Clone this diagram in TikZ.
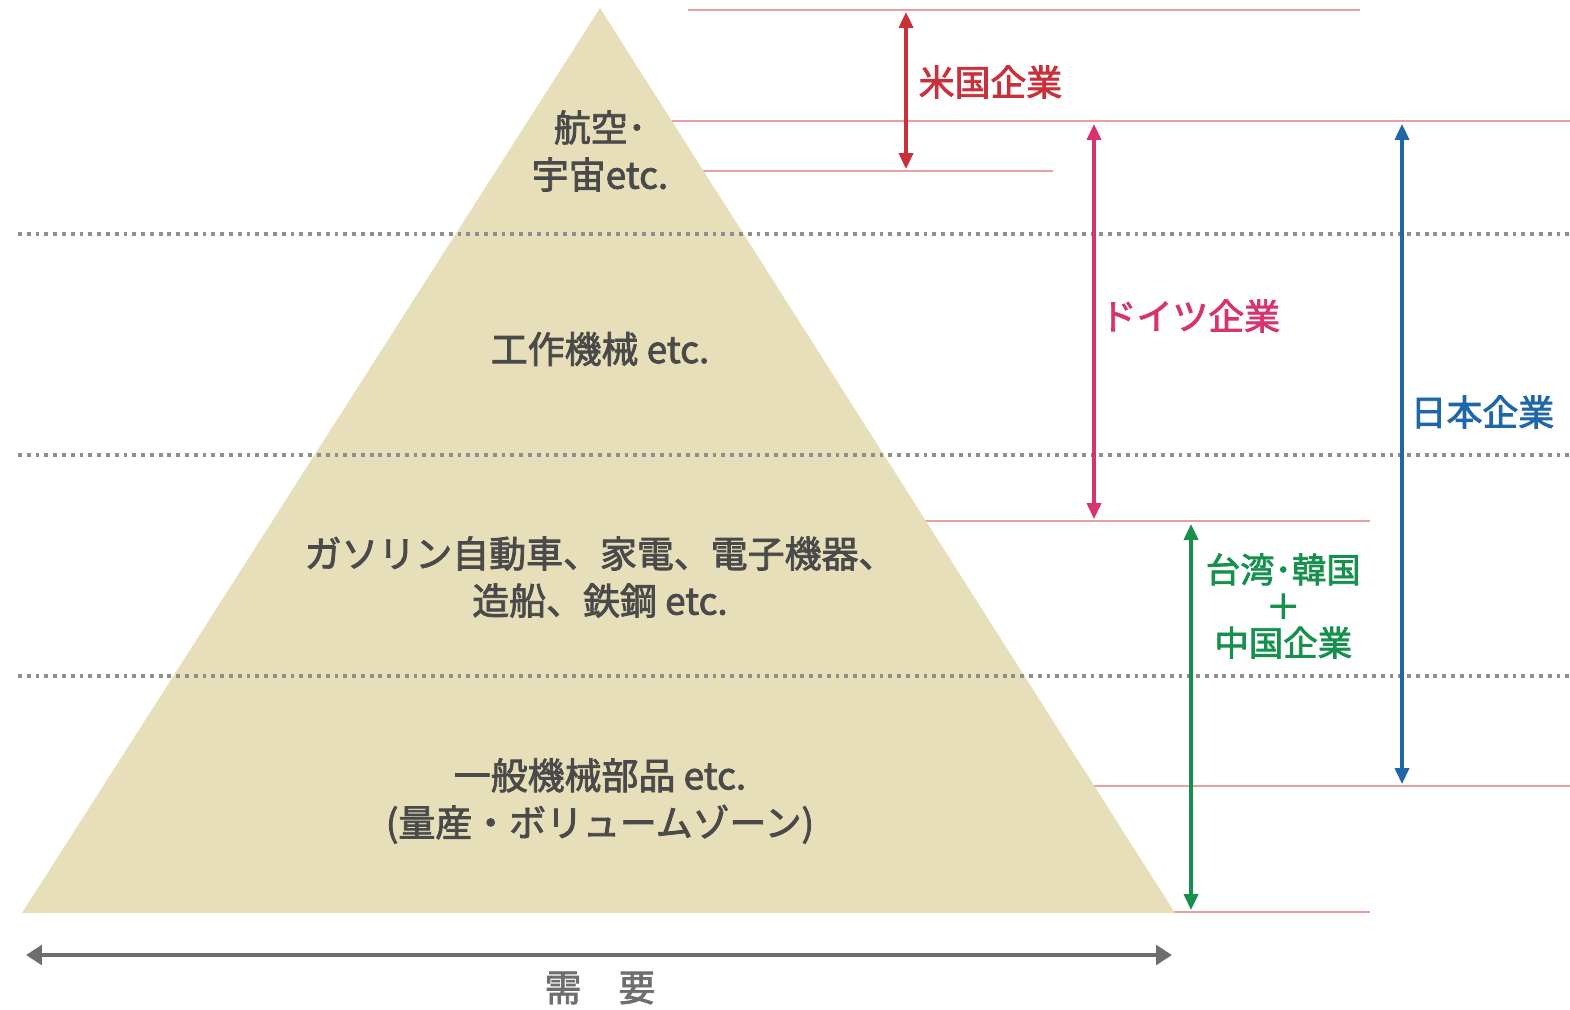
\documentclass[tikz,border=0pt]{standalone}
\usepackage{fontspec}
\usepackage{tikz}
\usetikzlibrary{arrows.meta}
\newfontfamily\jp{Noto Sans CJK JP}[AutoFakeBold=2.2]
\definecolor{pyrfill}{HTML}{E7DFB9}
\definecolor{tiergray}{HTML}{4A4A4A}
\definecolor{bandred}{HTML}{E8A0A0}
\definecolor{dotgray}{HTML}{8E8E8E}
\definecolor{usred}{HTML}{C9303A}
\definecolor{depink}{HTML}{D6336F}
\definecolor{jpblue}{HTML}{1F67A6}
\definecolor{asgreen}{HTML}{17904E}
\definecolor{demgray}{HTML}{6E6E6E}

\begin{document}
\begin{tikzpicture}[x=0.01cm, y=-0.01cm,
  tier/.style={font=\jp\bfseries\fontsize{10.5}{13.4}\selectfont, text=tiergray, align=center, inner sep=0pt},
  firm/.style={font=\jp\bfseries\fontsize{10.2}{10.4}\selectfont, anchor=west, align=center, inner sep=0pt},
  band/.style={draw=bandred, line width=0.5pt},
  level/.style={draw=dotgray, line width=0.9pt, dash pattern=on 1.1pt off 1.4pt},
  span/.style={line width=0.9pt, {Triangle[width=4pt,length=4.5pt]}-{Triangle[width=4pt,length=4.5pt]}}]
\useasboundingbox (0,0) rectangle (1570,1009);
\draw[band] (688,10) -- (1360,10);
\draw[band] (650,121) -- (1570,121);
\draw[band] (680,171) -- (1053,171);
\draw[band] (900,521) -- (1370,521);
\draw[band] (1080,786) -- (1570,786);
\draw[band] (1150,912) -- (1370,912);
\fill[pyrfill] (600,8) -- (1175,913) -- (22,913) -- cycle;
\foreach \y in {234,455,676}
  \draw[level] (18,\y) -- (1570,\y);
\node[tier] (air) at (600,151) {航空･\\宇宙etc.};
\node[tier] (tool) at (600,349) {工作機械 etc.};
\node[tier] (mass) at (600,577) {ガソリン自動車、家電、電子機器、\\造船、鉄鋼 etc.};
\node[tier] (parts) at (600,801) {一般機械部品 etc.\\(量産・ボリュームゾーン)};
\coordinate (us-a) at (906,12);
\coordinate (us-b) at (906,169);
\coordinate (de-a) at (1094,124);
\coordinate (de-b) at (1094,519);
\coordinate (jp-a) at (1402,124);
\coordinate (jp-b) at (1402,784);
\coordinate (as-a) at (1191,524);
\coordinate (as-b) at (1191,910);
\coordinate (dem-a) at (26,955);
\coordinate (dem-b) at (1172,955);
\draw[span, usred] (us-a) -- (us-b);
\draw[span, depink] (de-a) -- (de-b);
\draw[span, jpblue] (jp-a) -- (jp-b);
\draw[span, asgreen] (as-a) -- (as-b);
\draw[demgray, line width=1.4pt, {Triangle[width=5.5pt,length=4.5pt]}-{Triangle[width=5.5pt,length=4.5pt]}] (dem-a) -- (dem-b);
\node[firm, text=usred] (us) at (918,82) {米国企業};
\node[firm, text=depink] (de) at (1100,316) {ドイツ企業};
\node[firm, text=jpblue] (jp) at (1410,412) {日本企業};
\node[firm, text=asgreen, font=\jp\bfseries\fontsize{9.8}{10.4}\selectfont] (as) at (1205,606) {台湾･韓国\\＋\\中国企業};
\node[tier, text=demgray] (dem) at (600,988) {需　要};
\end{tikzpicture}
\end{document}
